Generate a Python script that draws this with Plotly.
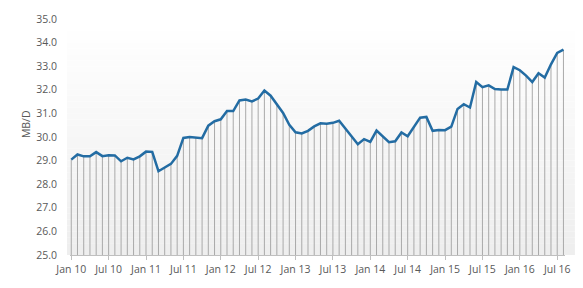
import plotly.graph_objects as go

# Monthly series, Jan 2010 - Aug 2016 (MB/D)
months = [f"{m} {y}" for y in range(2010, 2017) for m in
          ["Jan", "Feb", "Mar", "Apr", "May", "Jun", "Jul", "Aug", "Sep", "Oct", "Nov", "Dec"]][:80]
values = [
    29.04, 29.26, 29.18, 29.18, 29.36, 29.19, 29.23, 29.22, 28.97, 29.12, 29.05, 29.18,  # 2010
    29.38, 29.37, 28.55, 28.72, 28.86, 29.20, 29.96, 30.00, 29.99, 29.95, 30.48, 30.67,  # 2011
    30.75, 31.10, 31.10, 31.55, 31.59, 31.51, 31.63, 31.97, 31.75, 31.41, 31.02, 30.52,  # 2012
    30.20, 30.15, 30.26, 30.45, 30.58, 30.56, 30.60, 30.69, 30.34, 30.00, 29.69, 29.91,  # 2013
    29.79, 30.27, 30.03, 29.78, 29.82, 30.19, 30.03, 30.44, 30.82, 30.85, 30.26, 30.30,  # 2014
    30.29, 30.44, 31.19, 31.39, 31.25, 32.33, 32.11, 32.19, 32.03, 32.01, 32.01, 32.96,  # 2015
    32.83, 32.60, 32.33, 32.70, 32.52, 33.08, 33.56, 33.70,                              # 2016
]
tick_labels = ["Jan 10", "Jul 10", "Jan 11", "Jul 11", "Jan 12", "Jul 12", "Jan 13",
               "Jul 13", "Jan 14", "Jul 14", "Jan 15", "Jul 15", "Jan 16", "Jul 16"]
y_min, y_max = 25.0, 35.0

xs = list(range(len(values)))

# drop lines from baseline to each value
drop_x, drop_y = [], []
for i, v in zip(xs, values):
    drop_x += [i, i, None]
    drop_y += [y_min, v, None]

fig = go.Figure()
fig.add_trace(go.Scatter(x=drop_x, y=drop_y, mode="lines",
                         line=dict(color="#a9a9a9", width=1),
                         hoverinfo="skip", showlegend=False))
fig.add_trace(go.Scatter(x=xs, y=values, mode="lines",
                         line=dict(color="#236ca3", width=2.5),
                         showlegend=False))

# gradient plot-area background (white -> light gray)
n_bands = 40
for k in range(n_bands):
    t = k / (n_bands - 1)
    c = int(round(255 - t * (255 - 238)))
    fig.add_shape(type="rect", xref="paper", yref="paper",
                  x0=-0.006, x1=1.02,
                  y0=1 - (k + 1) / n_bands, y1=1 - k / n_bands,
                  fillcolor=f"rgb({c},{c},{c})", line=dict(width=0),
                  layer="below")

W, H = 583, 288
L, R, T, B = 70, 16, 14, 31
fig.update_layout(
    width=W, height=H,
    margin=dict(l=L, r=R, t=T, b=B, pad=0),
    paper_bgcolor="white", plot_bgcolor="rgba(0,0,0,0)",
    font=dict(family="Open Sans", size=10, color="#595959"),
    xaxis=dict(
        range=[-0.2, len(values) - 1 + 0.25],
        tickmode="array", tickvals=[6 * i for i in range(len(tick_labels))],
        ticktext=tick_labels,
        showgrid=False, zeroline=False,
        showline=True, linecolor="#bfbfbf", linewidth=1,
        ticks="outside", ticklen=4, tickcolor="#bfbfbf",
        tickfont=dict(size=10.5, color="#595959"),
    ),
    yaxis=dict(
        range=[y_min, y_max], dtick=1, tickformat=".1f",
        showgrid=False, zeroline=False, showline=False,
        ticks="", ticklabelstandoff=12,
        tickfont=dict(size=10.5, color="#595959"),
    ),
    annotations=[dict(text="MB/D", xref="paper", yref="paper",
                      x=(17 - L) / (W - L - R), y=(H - B - 122) / (H - T - B),
                      showarrow=False, textangle=-90,
                      font=dict(size=10.5, color="#595959"))],
)

fig.write_html("out.html")
